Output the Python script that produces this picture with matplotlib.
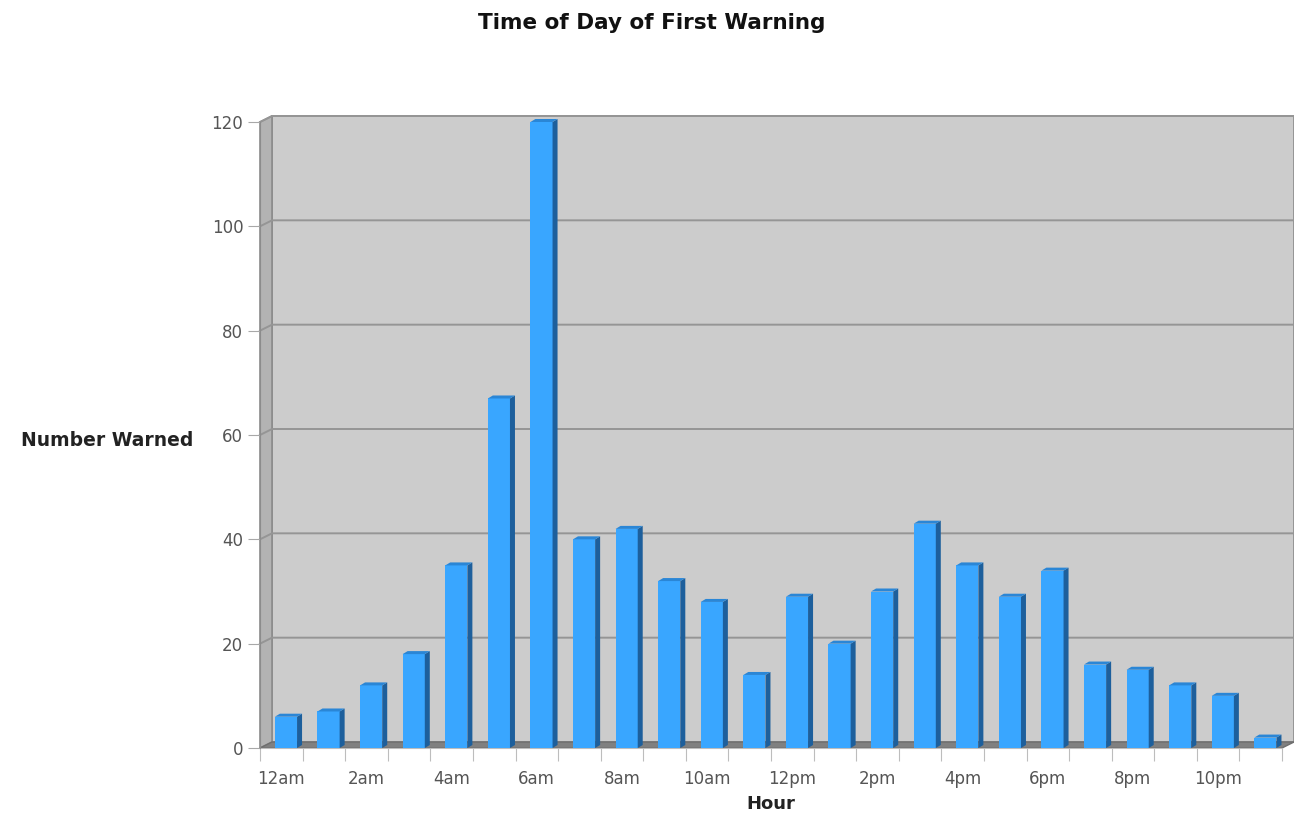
import numpy as np
import matplotlib
matplotlib.use('Agg')
import matplotlib.pyplot as plt
from matplotlib.patches import Polygon

# data
hours = ['12am', '1am', '2am', '3am', '4am', '5am', '6am', '7am', '8am', '9am', '10am', '11am',
         '12pm', '1pm', '2pm', '3pm', '4pm', '5pm', '6pm', '7pm', '8pm', '9pm', '10pm', '11pm']
warned = [6, 7, 12, 18, 35, 67, 120, 40, 42, 32, 28, 14,
          29, 20, 30, 43, 35, 29, 34, 16, 15, 12, 10, 2]
y_ticks = [0, 20, 40, 60, 80, 100, 120]

W, H = 1294, 816
fig = plt.figure(figsize=(W / 100, H / 100), dpi=100)
ax = fig.add_axes([260 / W, (H - 748) / H, 1022 / W, 626 / H])

n = len(hours)
x0, x1 = -0.5, n - 0.5
y0, y1 = 0, 120
ax.set_xlim(x0, x1)
ax.set_ylim(y0, y1)

px_x = 1022 / n          # pixels per category
px_y = 626 / 120         # pixels per unit
ox, oy = 12 / px_x, 6 / px_y   # wall depth in data units

# back wall, left wall, floor
ax.add_patch(Polygon([(x0 + ox, y0 + oy), (x1 + ox, y0 + oy), (x1 + ox, y1 + oy), (x0 + ox, y1 + oy)],
                     closed=True, facecolor='#cccccc', edgecolor='#8c8c8c', lw=1.2, clip_on=False, zorder=0))
ax.add_patch(Polygon([(x0, y0), (x0 + ox, y0 + oy), (x0 + ox, y1 + oy), (x0, y1)],
                     closed=True, facecolor='#b3b3b3', edgecolor='#8c8c8c', lw=1.2, clip_on=False, zorder=1))

# grid lines on left and back walls
for v in y_ticks[1:]:
    ax.plot([x0, x0 + ox, x1 + ox], [v, v + oy, v + oy], color='#959595', lw=1.4,
            clip_on=False, zorder=1.5)

ax.add_patch(Polygon([(x0, y0), (x1, y0), (x1 + ox, y0 + oy), (x0 + ox, y0 + oy)],
                     closed=True, facecolor='#808080', edgecolor='#6e6e6e', lw=1, clip_on=False, zorder=2))

# bars with fake 3D
bw = 0.52
shift = 0.11
dx, dy = 5 / px_x, 3 / px_y
xs = np.arange(n) + shift
ax.bar(xs, warned, width=bw, color='#39a6ff', edgecolor='none', zorder=4)
for x, h in zip(xs, warned):
    xl, xr = x - bw / 2, x + bw / 2
    ax.add_patch(Polygon([(xr, 0), (xr + dx, dy), (xr + dx, h + dy), (xr, h)],
                         closed=True, facecolor='#1d5f9c', edgecolor='none', zorder=4, clip_on=False))
    ax.add_patch(Polygon([(xl, h), (xr, h), (xr + dx, h + dy), (xl + dx, h + dy)],
                         closed=True, facecolor='#2a86d6', edgecolor='none', zorder=4, clip_on=False))

# axes styling
for s in ['top', 'right']:
    ax.spines[s].set_visible(False)
ax.spines['left'].set_color('#8c8c8c')
ax.spines['bottom'].set_color('#bdbdbd')
ax.spines['left'].set_zorder(3)
ax.patch.set_visible(False)

ax.set_yticks(y_ticks)
ax.tick_params(axis='y', length=9, color='#a8a8a8', labelcolor='#555555', labelsize=12, pad=3)

ax.set_xticks(np.arange(n + 1) - 0.5)
ax.set_xticklabels([])
ax.set_xticks(np.arange(0, n, 2), minor=True)
ax.set_xticklabels(hours[::2], minor=True)
ax.tick_params(axis='x', which='major', length=9, color='#bdbdbd')
ax.tick_params(axis='x', which='minor', length=0, labelcolor='#555555', labelsize=12, pad=16)

ax.set_xlabel('Hour', fontsize=13, fontweight='bold', labelpad=5, color='#222222')
fig.text(193 / W, 1 - 440 / H, 'Number Warned', ha='right', va='center', fontsize=13.5,
         fontweight='bold', color='#222222')
fig.text(652 / W, 1 - 23 / H, 'Time of Day of First Warning', ha='center', va='center',
         fontsize=15.5, fontweight='bold', color='#111111')

plt.savefig('out.png', dpi=100)
